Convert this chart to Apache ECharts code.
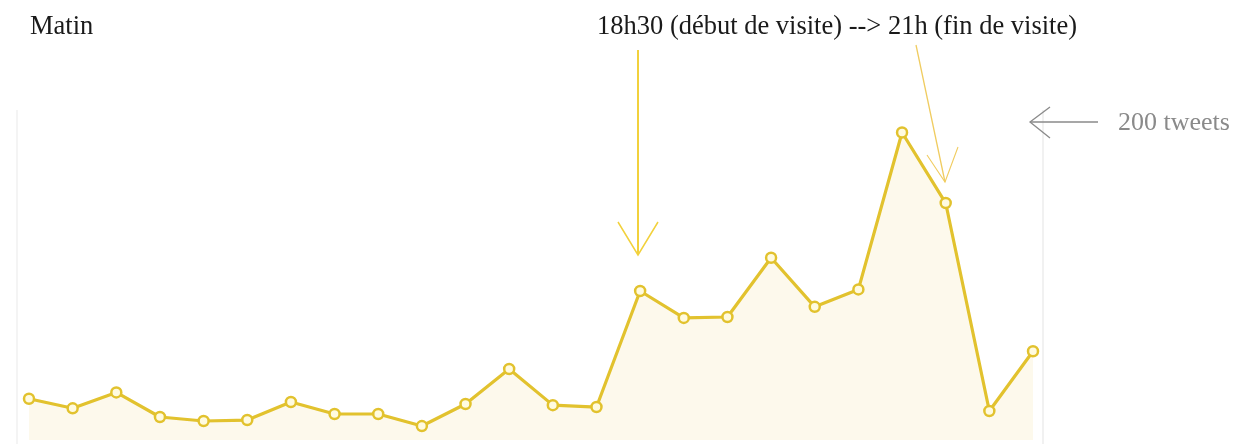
<!DOCTYPE html>
<html>
<head>
<meta charset="utf-8">
<script src="https://cdn.jsdelivr.net/npm/echarts@6/dist/echarts.min.js"></script>
<style>
  html, body { margin: 0; padding: 0; background: #fff; }
  #chart { width: 1244px; height: 444px; }
</style>
</head>
<body>
<div id="chart"></div>
<script>
// tweets par demi-heure
const slots = ["1", "2", "3", "4", "5", "6", "7", "8", "9", "10", "11", "12",
  "13", "14", "15", "16", "17", "18", "19", "20", "21", "22", "23", "24"];
const tweets = [26, 20, 30, 14.5, 12, 12.6, 24, 16.4, 16.4, 8.8, 22.7, 44.8,
  22, 20.8, 94, 77, 77.6, 115, 84, 95, 194, 149.5, 18.3, 56];
const yMax = 200;

const lineColor = "#e2c22e";
const serif = "Liberation Serif, Times New Roman, serif";

let myChart = echarts.init(document.getElementById("chart"));

let option = {
  animation: false,
  grid: {
    left: 29,
    right: 211,
    top: 123,
    bottom: 4,
  },
  xAxis: {
    type: "category",
    data: slots,
    boundaryGap: false,
    show: false,
  },
  yAxis: {
    type: "value",
    min: 0,
    max: yMax,
    show: false,
  },
  series: [
    {
      type: "line",
      data: tweets,
      symbol: "circle",
      symbolSize: 10,
      itemStyle: {
        color: "#fffbe0",
        borderColor: lineColor,
        borderWidth: 2.5,
      },
      lineStyle: {
        color: lineColor,
        width: 3.2,
      },
      areaStyle: {
        color: "rgba(242, 220, 150, 0.25)",
      },
    },
  ],
  graphic: [
    // cadre pâle
    {
      type: "line",
      shape: { x1: 17, y1: 110, x2: 17, y2: 444 },
      style: { stroke: "#f4f4f4", lineWidth: 2 },
    },
    {
      type: "line",
      shape: { x1: 1043, y1: 110, x2: 1043, y2: 444 },
      style: { stroke: "#f1f1f1", lineWidth: 2 },
    },
    {
      type: "text",
      left: 30,
      top: 14,
      style: { text: "Matin", font: "26.5px " + serif, fill: "#1a1a1a" },
    },
    {
      type: "text",
      left: 597,
      top: 14,
      style: {
        text: "18h30 (début de visite) --> 21h (fin de visite)",
        font: "26.5px " + serif,
        fill: "#1a1a1a",
      },
    },
    {
      type: "text",
      left: 1118,
      top: 110,
      style: { text: "200 tweets", font: "26px " + serif, fill: "#8a8a8a" },
    },
    // flèche 18h30
    {
      type: "polyline",
      shape: { points: [[638, 50], [638, 255]] },
      style: { stroke: "#f2d13c", lineWidth: 2 },
    },
    {
      type: "polyline",
      shape: { points: [[618, 222], [638, 255], [658, 222]] },
      style: { stroke: "#f2d13c", lineWidth: 1.5, fill: null },
    },
    // flèche 21h
    {
      type: "polyline",
      shape: { points: [[916, 45], [945, 182]] },
      style: { stroke: "#f0cc60", lineWidth: 1.3 },
    },
    {
      type: "polyline",
      shape: { points: [[927, 155], [945, 182], [958, 147]] },
      style: { stroke: "#f0cc60", lineWidth: 1.1, fill: null },
    },
    // flèche 200 tweets
    {
      type: "polyline",
      shape: { points: [[1030, 122], [1098, 122]] },
      style: { stroke: "#8a8a8a", lineWidth: 1.5 },
    },
    {
      type: "polyline",
      shape: { points: [[1050, 107], [1030, 122], [1050, 138]] },
      style: { stroke: "#8a8a8a", lineWidth: 1.3, fill: null },
    },
  ],
};

myChart.setOption(option);
window.onresize = function () {
  myChart.resize();
};
</script>
</body>
</html>
